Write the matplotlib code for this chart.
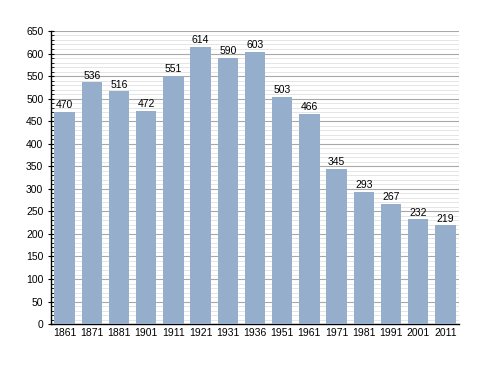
import matplotlib
matplotlib.use('Agg')
import matplotlib.pyplot as plt
from matplotlib.ticker import MultipleLocator

# Population by census year
years = ['1861', '1871', '1881', '1901', '1911', '1921', '1931', '1936',
         '1951', '1961', '1971', '1981', '1991', '2001', '2011']
population = [470, 536, 516, 472, 551, 614, 590, 603, 503, 466, 345, 293, 267, 232, 219]

plt.rcParams['font.family'] = ['Liberation Sans', 'DejaVu Sans']

fig = plt.figure(figsize=(4.88, 3.73), dpi=100)
ax = fig.add_axes([0.1045, 0.131, 0.836, 0.786])

x = range(len(years))
ax.bar(x, population, width=0.75, color='#94aecb', zorder=3)

for xi, v in zip(x, population):
    ax.text(xi, v + 4, str(v), ha='center', va='bottom', fontsize=7.5, zorder=4)

ax.set_xlim(-0.5, len(years) - 0.5)
ax.set_ylim(0, 650)
ax.yaxis.set_major_locator(MultipleLocator(50))
ax.yaxis.set_minor_locator(MultipleLocator(10))
ax.grid(axis='y', which='major', color='#a8a8a8', linewidth=0.8, zorder=1)
ax.grid(axis='y', which='minor', color='#e0e0e0', linewidth=0.6, zorder=0)

ax.set_xticks(list(x))
ax.set_xticklabels(years, fontsize=7.5)
ax.tick_params(axis='x', length=0, pad=3)
ax.tick_params(axis='y', which='major', labelsize=7.5, length=4, direction='inout')
ax.tick_params(axis='y', which='minor', length=2, direction='in')

for s in ['top', 'right']:
    ax.spines[s].set_visible(False)
ax.spines['left'].set_linewidth(1)
ax.spines['bottom'].set_linewidth(1)

fig.savefig('out.png', dpi=100)
